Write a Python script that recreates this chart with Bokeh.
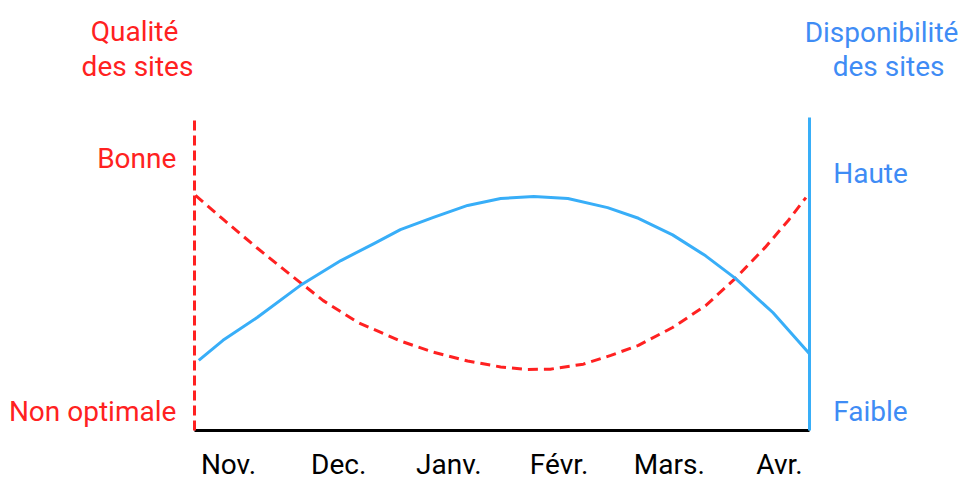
from bokeh.plotting import figure
from bokeh.models import Range1d, LinearAxis, FixedTicker, Label
from bokeh.embed import file_html
from bokeh.resources import INLINE

# ---- data ----
months = ["Nov.", "Dec.", "Janv.", "Févr.", "Mars.", "Avr."]
month_pos = [0, 1, 2, 3, 4, 5]

quality_x = [-0.30, -0.05, 0.26, 0.56, 0.86, 1.17, 1.56, 1.86, 2.17, 2.47, 2.71,
             2.92, 3.22, 3.47, 3.72, 4.03, 4.33, 4.60, 4.87, 5.08, 5.24]
quality_y = [75.1, 67.5, 58.3, 49.8, 41.5, 34.6, 28.6, 25.0, 22.2, 20.3, 19.5,
             19.6, 21.2, 24.0, 27.2, 32.9, 39.9, 48.6, 58.5, 67.1, 74.4]

avail_x = [-0.27, -0.05, 0.26, 0.65, 1.02, 1.32, 1.56, 1.86, 2.17, 2.47, 2.77,
           3.08, 3.44, 3.72, 4.03, 4.33, 4.60, 4.94, 5.27]
avail_y = [22.4, 28.8, 36.1, 46.3, 54.3, 59.7, 64.2, 68.1, 71.9, 74.1, 74.8,
           74.1, 71.2, 67.8, 62.5, 55.8, 48.6, 37.7, 24.6]

left_ticks = [6, 87]
left_labels = ["Non optimale", "Bonne"]
right_ticks = [6, 82]
right_labels = ["Faible", "Haute"]

left_title = ["Qualité", "des sites"]
right_title = ["Disponibilité", "des sites"]

RED = "#ff2121"
BLUE_LINE = "#38aef8"
BLUE_TEXT = "#3f8cf5"
FONT = "Roboto"
FS = "28px"

X_LO, X_HI = -0.31, 5.27     # extent of the original chart's axes
Y_LO, Y_HI = 0, 100

p = figure(width=963, height=481,
           x_range=Range1d(-2.069, 6.670), y_range=Range1d(-16.29, 137.38),
           output_backend="svg", toolbar_location=None, min_border=0)
p.outline_line_color = None
p.grid.grid_line_color = None
p.background_fill_color = "white"
p.border_fill_color = "white"

# curves
p.line(quality_x, quality_y, line_color=RED, line_width=3, line_dash="10 6",
       line_join="round")
p.line(avail_x, avail_y, line_color=BLUE_LINE, line_width=3, line_join="round")

# bottom axis
xa = p.xaxis[0]
xa.fixed_location = Y_LO
xa.bounds = (X_LO, X_HI)
xa.ticker = FixedTicker(ticks=month_pos)
xa.major_label_overrides = {m: lab for m, lab in zip(month_pos, months)}
xa.axis_line_color = "black"
xa.axis_line_width = 3
xa.major_tick_line_color = None
xa.minor_tick_line_color = None
xa.major_label_text_font = FONT
xa.major_label_text_font_size = FS
xa.major_label_text_color = "black"
xa.major_label_standoff = 11

# left axis
ya = p.yaxis[0]
ya.fixed_location = X_LO
ya.bounds = (Y_LO, Y_HI)
ya.ticker = FixedTicker(ticks=left_ticks)
ya.major_label_overrides = {t: lab for t, lab in zip(left_ticks, left_labels)}
ya.axis_line_color = RED
ya.axis_line_width = 3
ya.axis_line_dash = "10 5"
ya.major_tick_line_color = None
ya.minor_tick_line_color = None
ya.major_label_text_font = FONT
ya.major_label_text_font_size = FS
ya.major_label_text_color = RED
ya.major_label_standoff = 12

# right axis
ra = LinearAxis(ticker=FixedTicker(ticks=right_ticks), fixed_location=X_HI, bounds=(Y_LO, Y_HI))
ra.major_label_overrides = {t: lab for t, lab in zip(right_ticks, right_labels)}
ra.axis_line_color = BLUE_LINE
ra.axis_line_width = 3
ra.major_tick_line_color = None
ra.minor_tick_line_color = None
ra.major_label_text_font = FONT
ra.major_label_text_font_size = FS
ra.major_label_text_color = BLUE_TEXT
ra.major_label_standoff = 18
p.add_layout(ra, "right")

# axis titles
for txt, x, y in [(left_title[0], -0.853, 127.6), (left_title[1], -0.826, 116.3)]:
    p.add_layout(Label(x=x, y=y, text=txt, text_font=FONT, text_font_size=FS,
                       text_color=RED, text_align="center", text_baseline="middle"))
for txt, x, y in [(right_title[0], 5.926, 127.1), (right_title[1], 5.99, 116.2)]:
    p.add_layout(Label(x=x, y=y, text=txt, text_font=FONT, text_font_size=FS,
                       text_color=BLUE_TEXT, text_align="center", text_baseline="middle"))

open("out.html", "w").write(file_html(p, INLINE))
